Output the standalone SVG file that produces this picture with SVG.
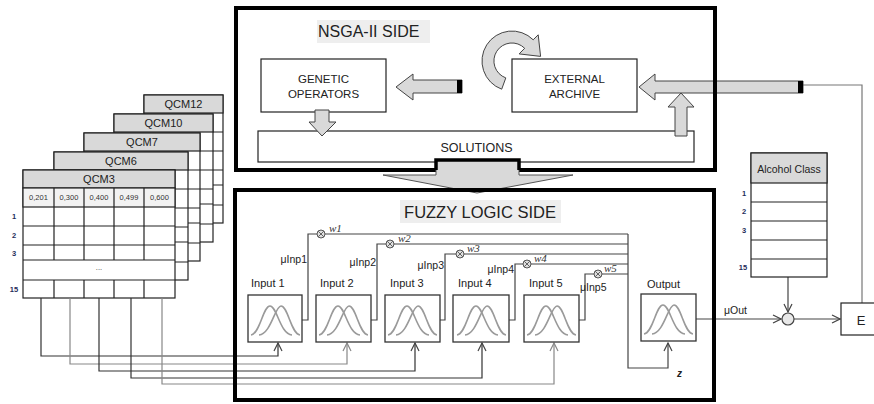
<svg xmlns="http://www.w3.org/2000/svg" width="874" height="404" viewBox="0 0 874 404">
<style>
text{font-family:"Liberation Sans",Arial,sans-serif;fill:#222}
.tb{fill:#fff;stroke:#222;stroke-width:1.2}
.th{fill:#d9d9d9;stroke:#222;stroke-width:1.2}
.tl{stroke:#222;stroke-width:1.2;fill:none}
.qh{font-size:11px;text-anchor:middle}
.val{font-size:7.5px;text-anchor:middle;fill:#333}
.rl{font-size:7.5px;font-weight:bold;text-anchor:middle;fill:#1f2d5a}
.blk{fill:#d9d9d9;stroke:#444;stroke-width:1}
.box{fill:#fff;stroke:#222;stroke-width:1.2}
.side{fill:none;stroke:#000;stroke-width:4}
.lbl{font-size:11.5px;text-anchor:middle}
.fb{fill:#fff;stroke:#333;stroke-width:1.3}
.il{font-size:11px}
.mu{font-size:10.5px}
.w{font-family:"Liberation Serif","Times New Roman",serif;font-style:italic;font-size:11px;fill:#333}
.c1{fill:none;stroke:#333;stroke-width:1.2}
.c2{fill:none;stroke:#888;stroke-width:1.2}
.cn{fill:none;stroke:#444;stroke-width:1.2}
</style>
<defs>
<marker id="ah" viewBox="0 0 10 10" refX="9" refY="5" markerWidth="10" markerHeight="10" markerUnits="userSpaceOnUse" orient="auto"><path d="M1,1 L9,5 L1,9" fill="none" stroke="#444" stroke-width="1.2"/></marker>
<marker id="ahg" viewBox="0 0 10 10" refX="9" refY="5" markerWidth="10" markerHeight="10" markerUnits="userSpaceOnUse" orient="auto"><path d="M1,1 L9,5 L1,9" fill="none" stroke="#888" stroke-width="1.2"/></marker>
<g id="bell">
<path d="M3,40 C12,39 15,11 22,11 C29,11 32,39 44,40" fill="none" stroke="#9a9a9a" stroke-width="1.6"/>
<path d="M11,40 C23,39 27,11 33,11 C40,11 43,39 52,40" fill="none" stroke="#9a9a9a" stroke-width="1.6"/>
</g>
<g id="wx"><circle r="4" fill="#e0e0e0" stroke="#555" stroke-width="1"/><path d="M-2.8,-2.8 L2.8,2.8 M-2.8,2.8 L2.8,-2.8" stroke="#555" stroke-width="0.9"/></g>
</defs>
<rect width="874" height="404" fill="#fff"/>

<!-- QCM tables -->
<g id="qcm12">
<rect class="tb" x="144" y="95" width="79" height="128"/>
<rect class="th" x="144" y="95" width="79" height="18"/>
<path class="tl" d="M144,132H223M144,151H223M144,170H223M144,185H223M144,205H223"/>
<text class="qh" x="183.5" y="108">QCM12</text>
</g>
<g id="qcm10">
<rect class="tb" x="114" y="114" width="99" height="128"/>
<rect class="th" x="114" y="114" width="99" height="18"/>
<path class="tl" d="M114,151H213M114,170H213M114,189H213M114,204H213M114,224H213"/>
<text class="qh" x="163.5" y="127">QCM10</text>
</g>
<g id="qcm7">
<rect class="tb" x="84" y="133" width="116" height="128"/>
<rect class="th" x="84" y="133" width="116" height="18"/>
<path class="tl" d="M84,170H200M84,189H200M84,208H200M84,223H200M84,243H200"/>
<text class="qh" x="142" y="146">QCM7</text>
</g>
<g id="qcm6">
<rect class="tb" x="54" y="152" width="134" height="128"/>
<rect class="th" x="54" y="152" width="134" height="18"/>
<path class="tl" d="M54,189H188M54,208H188M54,227H188M54,242H188M54,262H188"/>
<text class="qh" x="121" y="165">QCM6</text>
</g>
<g id="qcm3">
<rect class="tb" x="23" y="170" width="152" height="128"/>
<rect class="th" x="23" y="170" width="152" height="18"/>
<rect x="23" y="188" width="152" height="19" fill="#f2f2f2" stroke="#222" stroke-width="1.2"/>
<path class="tl" d="M23,226H175M23,245H175M23,260H175M23,280H175"/>
<path class="tl" d="M54,188V260M84,188V260M114,188V260M144,188V260M54,280V298M84,280V298M114,280V298M144,280V298"/>
<text class="qh" x="99" y="183">QCM3</text>
<text class="val" x="38.5" y="200">0,201</text>
<text class="val" x="69" y="200">0,300</text>
<text class="val" x="99" y="200">0,400</text>
<text class="val" x="129" y="200">0,499</text>
<text class="val" x="159.5" y="200">0,600</text>
<text class="rl" x="14" y="219">1</text>
<text class="rl" x="14" y="238">2</text>
<text class="rl" x="14" y="256">3</text>
<text class="rl" x="14" y="292">15</text>
<text class="val" x="99" y="270" fill="#666">...</text>
</g>

<!-- NSGA-II inner nodes -->
<g id="genetic">
<rect class="box" x="261" y="59" width="125" height="53"/>
<text class="lbl" x="323.5" y="83">GENETIC</text>
<text class="lbl" x="323.5" y="98">OPERATORS</text>
</g>
<g id="archive">
<rect class="box" x="512" y="59" width="125" height="53"/>
<text class="lbl" x="574.5" y="83">EXTERNAL</text>
<text class="lbl" x="574.5" y="98">ARCHIVE</text>
</g>
<g id="solutions">
<rect class="box" x="258" y="131" width="436" height="31" fill="none"/>
<text x="476.5" y="152" font-size="12.5" text-anchor="middle">SOLUTIONS</text>
</g>

<!-- connectors -->
<g id="connectors">
<path class="c1" d="M41,298V356H278V343" marker-end="url(#ah)"/>
<path class="c2" d="M70,298V364H347V343" marker-end="url(#ahg)"/>
<path class="c1" d="M99,298V371H415V343" stroke="#555" marker-end="url(#ah)"/>
<path class="c1" d="M131,298V378H482V343" marker-end="url(#ah)"/>
<path class="c2" d="M162,298V384H554V343" marker-end="url(#ahg)"/>
<path class="cn" d="M302,320H308V234H628"/>
<path class="cn" d="M371,320H377V244H628"/>
<path class="cn" d="M440,320H445V254H628"/>
<path class="cn" d="M509,320H515V264H628"/>
<path class="cn" d="M579,320H585V274H628"/>
<path class="cn" d="M628,234V368H668V343" marker-end="url(#ah)"/>
<path class="cn" d="M696,319H781" marker-end="url(#ah)"/>
<path class="cn" d="M794,319H840" marker-end="url(#ah)"/>
<path class="cn" d="M788,277V312" marker-end="url(#ah)"/>
<path d="M803,85H862V303" fill="none" stroke="#777" stroke-width="1.2"/>
<path class="blk" d="M639,87L655,74V81H803V93H655V100Z"/>
<rect x="798" y="81" width="5" height="12" fill="#000"/>
<path class="blk" d="M396,87L413,74V80H462V93H413V100Z"/>
<rect x="457" y="80" width="5" height="13" fill="#000"/>
<path class="blk" d="M681,93L694,107H687V136H675V107H668Z"/>
<path class="blk" d="M315,110H329V122H336L322,136L309,122H315Z"/>
<path class="blk" d="M501.7,89.2 A30,30 0 1 1 533.2,39.8 L538.2,34.8 L540.6,56.4 L519.1,53.9 L524.7,48.3 A18,18 0 1 0 505.8,77.9 Z"/>
</g>

<!-- NSGA-II side -->
<g id="nsga">
<rect class="side" x="236" y="8" width="479" height="162"/>
<rect x="317" y="20" width="113" height="23" fill="#eeeeee"/>
<text x="318" y="37" font-size="16">NSGA-II SIDE</text>
</g>

<!-- transfer arrow -->
<g id="transfer">
<path d="M436,160H519V175H573L477,193L383,175H436Z" fill="#d9d9d9" stroke="#555" stroke-width="1"/>
<path d="M436,170V160H519V170" fill="none" stroke="#000" stroke-width="3.5"/>
</g>

<!-- Fuzzy logic side -->
<g id="fuzzy">
<rect class="side" x="235" y="190" width="479" height="210"/>
<rect x="400" y="200" width="161" height="23" fill="#eeeeee"/>
<text x="480" y="218" font-size="16.5" text-anchor="middle">FUZZY LOGIC SIDE</text>
</g>
<g id="input1"><rect class="fb" x="248" y="295" width="54" height="47"/><use href="#bell" x="248" y="295"/><text class="il" x="251" y="287">Input 1</text><text class="mu" x="307" y="263" text-anchor="end">μInp1</text></g>
<g id="input2"><rect class="fb" x="316" y="295" width="55" height="47"/><use href="#bell" x="316" y="295"/><text class="il" x="320" y="287">Input 2</text><text class="mu" x="376" y="266" text-anchor="end">μInp2</text></g>
<g id="input3"><rect class="fb" x="385" y="295" width="55" height="47"/><use href="#bell" x="385" y="295"/><text class="il" x="390" y="287">Input 3</text><text class="mu" x="444" y="269" text-anchor="end">μInp3</text></g>
<g id="input4"><rect class="fb" x="453" y="295" width="56" height="47"/><use href="#bell" x="454" y="295"/><text class="il" x="458" y="287">Input 4</text><text class="mu" x="514" y="273" text-anchor="end">μInp4</text></g>
<g id="input5"><rect class="fb" x="524" y="295" width="55" height="47"/><use href="#bell" x="524" y="295"/><text class="il" x="529" y="287">Input 5</text><text class="mu" x="580" y="291">μInp5</text></g>
<g id="output"><rect class="fb" x="641" y="294" width="55" height="47"/><use href="#bell" x="641" y="294"/><text class="il" x="647" y="288">Output</text><text x="677" y="377" font-size="10" font-style="italic" font-weight="bold">z</text></g>
<g id="weights">
<use href="#wx" x="321" y="234"/><text class="w" x="329" y="232">w1</text>
<use href="#wx" x="390" y="244"/><text class="w" x="398" y="242">w2</text>
<use href="#wx" x="460" y="254"/><text class="w" x="467" y="252">w3</text>
<use href="#wx" x="527" y="264"/><text class="w" x="534" y="262">w4</text>
<use href="#wx" x="598" y="274"/><text class="w" x="604" y="272">w5</text>
</g>

<!-- right side -->
<g id="alcohol">
<rect class="tb" x="751" y="153" width="76" height="124"/>
<rect class="th" x="751" y="153" width="76" height="30"/>
<path class="tl" d="M751,202H827M751,221H827M751,240H827M751,259H827"/>
<text x="789" y="173" font-size="10.5" text-anchor="middle">Alcohol Class</text>
<text class="rl" x="744" y="196">1</text>
<text class="rl" x="744" y="214">2</text>
<text class="rl" x="744" y="233">3</text>
<text class="rl" x="743" y="270">15</text>
</g>
<g id="muout"><text class="mu" x="724" y="314">μOut</text></g>
<g id="compare"><circle cx="788" cy="319" r="6" fill="#e8e8e8" stroke="#444" stroke-width="1.2"/></g>
<g id="E"><rect class="box" x="841" y="303" width="40" height="32"/><text x="861" y="325" font-size="13" text-anchor="middle">E</text></g>
</svg>
